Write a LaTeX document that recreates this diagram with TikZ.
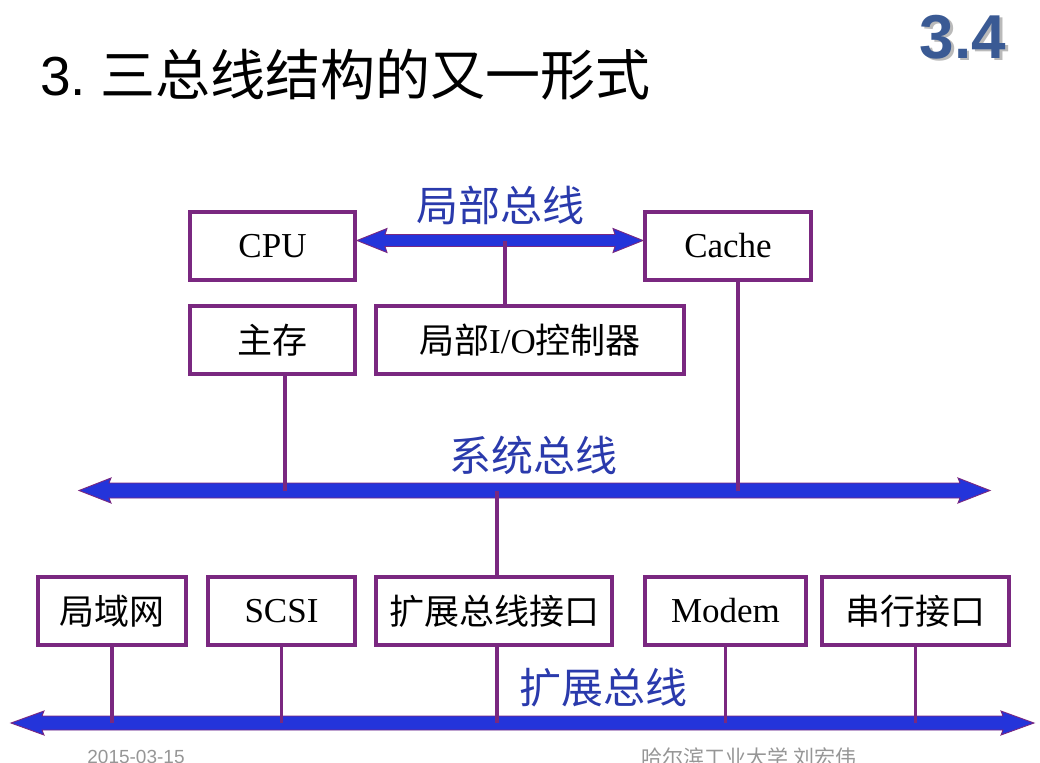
\documentclass[tikz,border=0pt]{standalone}
\usepackage{fontspec}
\setmainfont{Liberation Serif}
\newfontfamily\cjk{Noto Sans CJK SC}
\newfontfamily\latinsans{Liberation Sans}
\usetikzlibrary{calc}

\definecolor{boxpurple}{RGB}{122,40,128}
\definecolor{busblue}{RGB}{36,52,218}
\definecolor{labelblue}{RGB}{42,58,172}
\definecolor{badgeblue}{RGB}{58,90,148}
\definecolor{footgray}{RGB}{150,150,150}

\tikzset{
  unit/.style={draw=boxpurple, line width=4pt, minimum height=68pt, inner sep=0pt,
    font=\fontsize{35}{40}\selectfont},
  link/.style={draw=boxpurple, line width=3.6pt},
  busarrow/.style={fill=busblue, draw=boxpurple, line width=0.9pt, line join=miter},
  buslabel/.style={text=labelblue, font=\cjk\fontsize{42}{46}\selectfont, inner sep=0pt},
  footer/.style={text=footgray, inner sep=0pt},
}

% double-headed bus: left end, right end, body half height, head half height, head length
% (the barbs sweep back 2pt past the point where the head meets the shaft)
\newcommand\drawbus[5]{%
  \filldraw[busarrow] (#1) -- ($(#1)+(#5,-#4)$) -- ($(#1)+(#5-2,-#3)$)
    -- ($(#2)+(-#5+2,-#3)$) -- ($(#2)+(-#5,-#4)$) -- (#2)
    -- ($(#2)+(-#5,#4)$) -- ($(#2)+(-#5+2,#3)$)
    -- ($(#1)+(#5-2,#3)$) -- ($(#1)+(#5,#4)$) -- cycle;}

\begin{document}
\begin{tikzpicture}[x=1pt, y=-1pt]
  \useasboundingbox (0,0) rectangle (1040,762);
  \clip (0,0) rectangle (1040,762);

  % heading
  \node[anchor=west, inner sep=0pt] (title) at (40,75)
    {\fontsize{55}{60}\selectfont{\latinsans 3.}\hspace{14pt}{\cjk 三总线结构的又一形式}};
  \node[text=black!45, opacity=0.6, font=\latinsans\bfseries\fontsize{62}{66}\selectfont, inner sep=0pt]
    (badgeshadow) at (965.5,39.5) {3.4};
  \node[text=badgeblue, font=\latinsans\bfseries\fontsize{62}{66}\selectfont, inner sep=0pt]
    (badge) at (963,37) {3.4};

  % units
  \node[unit, minimum width=165pt] (cpu)    at (272.5,246) {CPU};
  \node[unit, minimum width=166pt] (cache)  at (728,246)   {Cache};
  \node[unit, minimum width=165pt] (mem)    at (272.5,340) {\cjk 主存};
  \node[unit, minimum width=308pt] (ioc)    at (530,340)   {{\cjk 局部}I/O{\cjk 控制器}};
  \node[unit, minimum width=148pt] (lan)    at (112,611)   {\cjk 局域网};
  \node[unit, minimum width=147pt] (scsi)   at (281.5,611) {SCSI};
  \node[unit, minimum width=236pt] (ebi)    at (494,611)   {\cjk 扩展总线接口};
  \node[unit, minimum width=161pt] (modem)  at (725.5,611) {Modem};
  \node[unit, minimum width=187pt] (serial) at (915.5,611) {\cjk 串行接口};

  % bus ends and taps
  \coordinate (locL) at (357,240.5);  \coordinate (locR) at (643,240.5);
  \coordinate (sysL) at (79,490.5);   \coordinate (sysR) at (990,490.5);
  \coordinate (extL) at (11,723);     \coordinate (extR) at (1034,723);
  \coordinate (locIO)    at (505,240.5);
  \coordinate (sysMem)   at (285,490.5);
  \coordinate (sysCache) at (738,490.5);
  \coordinate (sysExt)   at (497,490.5);
  \coordinate (extEbi)   at (497,723);

  % buses
  \drawbus{locL}{locR}{6}{12}{30}
  \drawbus{sysL}{sysR}{7.5}{12.5}{32}
  \drawbus{extL}{extR}{7}{12}{33}

  % bus labels
  \node[buslabel] (loclabel) at (500,205) {局部总线};
  \node[buslabel] (syslabel) at (533,455) {系统总线};
  \node[buslabel] (extlabel) at (603,688) {扩展总线};

  % taps onto the buses
  \draw[link] (locIO) -- (locIO |- ioc.north);
  \draw[link] (sysMem |- mem.south) -- (sysMem);
  \draw[link] (sysCache |- cache.south) -- (sysCache);
  \draw[link] (sysExt) -- (sysExt |- ebi.north);
  \draw[link] (extEbi |- ebi.south) -- (extEbi);
  \draw[link] (lan.south) -- (lan.south |- extL);
  \draw[link] (scsi.south) -- (scsi.south |- extL);
  \draw[link] (modem.south) -- (modem.south |- extL);
  \draw[link] (serial.south) -- (serial.south |- extL);

  % footer
  \node[footer, font=\latinsans\fontsize{19}{22}\selectfont] (date) at (136,757) {2015-03-15};
  \node[footer, font=\cjk\fontsize{21}{24}\selectfont] (author) at (749,757) {哈尔滨工业大学\ 刘宏伟};
\end{tikzpicture}
\end{document}
